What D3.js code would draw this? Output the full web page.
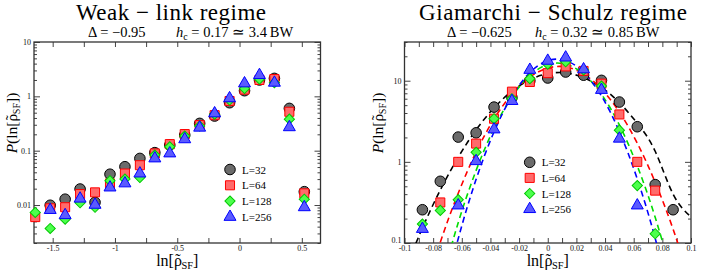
<!DOCTYPE html>
<html>
<head>
<meta charset="utf-8">
<script src="https://cdn.jsdelivr.net/npm/d3@7"></script>
<style>
  body { margin: 0; background: #fff; }
  svg { display: block; }
  text { font-family: "Liberation Serif", "Times New Roman", serif; }
</style>
</head>
<body>
<div id="chart"></div>
<script>

// ---- weak-link panel data (P vs ln rho_SF) ----
var weakX    = [-1.64, -1.52, -1.40, -1.28, -1.16, -1.04, -0.92, -0.80, -0.68, -0.56, -0.44, -0.32, -0.20, -0.08, 0.04, 0.16, 0.28, 0.40, 0.52];
var weakL32  = [null, 0.0099, 0.0128, 0.0197, 0.0112, 0.0369, 0.0507, 0.072, 0.092, 0.127, 0.194, 0.318, 0.434, 0.763, 1.27, 2.0, 2.14, 0.60, 0.0176];
var weakL64  = [0.0060, 0.0087, 0.0091, 0.0159, 0.0171, 0.025, 0.038, 0.054, 0.089, 0.132, 0.202, 0.296, 0.45, 0.82, 1.33, 2.0, 2.08, 0.52, 0.0164];
var weakL128 = [0.0073, 0.0037, 0.0055, 0.011, 0.0091, 0.028, 0.030, 0.032, 0.083, 0.118, 0.186, 0.284, 0.47, 0.855, 1.39, 2.08, 1.78, 0.38, 0.0128];
var weakL256 = [null, 0.0081, 0.0065, 0.0131, 0.0101, 0.021, 0.025, 0.038, 0.072, 0.089, 0.162, 0.265, 0.486, 0.92, 1.73, 2.46, 1.78, 0.27, 0.0091];

var weakXTicks  = [-1.5, -1.25, -1, -0.75, -0.5, -0.25, 0, 0.25, 0.5];
var weakXLabels = [-1.5, -1, -0.5, 0, 0.5];
var weakYLabels = [0.01, 0.1, 1, 10];

// ---- Giamarchi-Schulz panel data ----
var gsX    = [-0.0875, -0.075, -0.0625, -0.05, -0.0375, -0.025, -0.0125, 0, 0.0125, 0.025, 0.0375, 0.05, 0.0625, 0.075, 0.0875];
var gsL32  = [0.257, 0.576, 2.02, 2.28, 4.73, 6.2, 10.0, 10.8, 12.8, 11.7, 10.1, 5.46, 2.71, 0.524, 0.257];
var gsL64  = [null, 0.316, 1.0, 1.68, 3.4, 7.33, 9.65, 12.4, 15.0, 13.2, 9.2, 3.84, 1.0, 0.442, null];
var gsL128 = [0.171, 0.252, 0.342, 1.31, 3.4, 6.0, 10.6, 16.0, 17.1, 13.6, 8.6, 2.46, 0.51, 0.13, null];
var gsL256 = [0.149, null, 0.29, 1.02, 2.51, 5.62, 13.6, 17.6, 19.3, 13.8, 7.7, 1.93, 0.29, null, null];

// dashed fit curves
var gsFitX    = [-0.1, -0.0875, -0.075, -0.0625, -0.05, -0.0375, -0.025, -0.0125, 0, 0.0125, 0.025, 0.0375, 0.05, 0.0625, 0.075, 0.0875, 0.1];
var gsFitL32  = [0.045, 0.153, 0.45, 1.14, 2.48, 4.63, 7.43, 10.3, 12.2, 12.5, 10.9, 8.27, 5.37, 2.99, 1.35, 0.40, 0.21];
var gsFitL64  = [null, 0.020, 0.102, 0.41, 1.32, 3.37, 6.85, 11.1, 14.3, 14.8, 12.1, 7.9, 4.1, 1.70, 0.56, 0.148, 0.031];
var gsFitL128 = [null, null, 0.030, 0.178, 0.785, 2.59, 6.34, 11.6, 15.8, 16.0, 12.1, 6.8, 2.85, 0.89, 0.207, 0.036, null];
var gsFitL256 = [null, null, 0.015, 0.113, 0.61, 2.34, 6.43, 12.6, 17.7, 17.7, 12.7, 6.48, 2.36, 0.615, 0.114, 0.015, null];

var gsXTicks  = [-0.1, -0.09, -0.08, -0.07, -0.06, -0.05, -0.04, -0.03, -0.02, -0.01, 0, 0.01, 0.02, 0.03, 0.04, 0.05, 0.06, 0.07, 0.08, 0.09, 0.1];
var gsXLabels = [-0.1, -0.08, -0.06, -0.04, -0.02, 0, 0.02, 0.04, 0.06, 0.08, 0.1];
var gsYLabels = [0.1, 1, 10];

var seriesNames = ["L=32", "L=64", "L=128", "L=256"];

// marker look for each L
var styles = [
  {type: d3.symbolCircle,   size: 88, rot: 0,  fill: "#6b6b6b", stroke: "#000",    line: "#000"},
  {type: d3.symbolSquare,   size: 82, rot: 0,  fill: "#ff6b6b", stroke: "#ff0000", line: "#ff0000"},
  {type: d3.symbolSquare,   size: 52, rot: 45, fill: "#4dff4d", stroke: "#00c800", line: "#00dd00"},
  {type: d3.symbolTriangle, size: 62, rot: 0,  fill: "#5a5aff", stroke: "#0000ff", line: "#0000ff"}
];

var svg = d3.select("#chart")
  .append("svg")
  .attr("width", 706)
  .attr("height", 271);

function marker(g, s, px, py) {
  g.append("path")
    .attr("d", d3.symbol().type(s.type).size(s.size))
    .attr("transform", "translate(" + px + "," + py + ") rotate(" + s.rot + ")")
    .attr("fill", s.fill)
    .attr("stroke", s.stroke)
    .attr("stroke-width", 1);
}

// ln[rho~_SF] : tilde drawn as its own glyph over the rho
function rhoLabel(t, size, before, after) {
  t.append("tspan").text(before);
  t.append("tspan").text("\u03C1");
  t.append("tspan").attr("dx", -0.42 * size).attr("dy", -0.05 * size).text("\u02DC");
  t.append("tspan").attr("font-size", size * 0.65).attr("dx", 0.06 * size).attr("dy", 0.05 * size + 3).text("SF");
  t.append("tspan").attr("dy", -3).text(after);
}

function drawPanel(p) {

  var x = d3.scaleLinear().domain(p.xDomain).range([p.left, p.right]);
  var y = d3.scaleLog().domain(p.yDomain).range([p.bottom, p.top]);

  var g = svg.append("g");

  // all ticks point inwards, on the four sides
  var fmtX = function(d) { return p.xLabels.indexOf(d) >= 0 ? String(d) : ""; };
  var fmtY = function(d) { return String(d); };

  g.append("g")
    .attr("transform", "translate(0," + p.bottom + ")")
    .call(d3.axisBottom(x).tickValues(p.xTicks).tickSize(-5).tickPadding(2).tickFormat(fmtX));
  g.append("g")
    .attr("transform", "translate(0," + p.top + ")")
    .call(d3.axisTop(x).tickValues(p.xTicks).tickSize(-5).tickFormat(""));

  var minors = y.ticks().filter(function(v) { return p.yLabels.indexOf(v) < 0; });
  var left = g.append("g")
    .attr("transform", "translate(" + p.left + ",0)")
    .call(d3.axisLeft(y).tickValues(p.yLabels).tickSize(-6).tickPadding(3).tickFormat(fmtY));
  g.append("g")
    .attr("transform", "translate(" + p.left + ",0)")
    .call(d3.axisLeft(y).tickValues(minors).tickSize(-3).tickFormat(""));
  g.append("g")
    .attr("transform", "translate(" + p.right + ",0)")
    .call(d3.axisRight(y).tickValues(p.yLabels).tickSize(-6).tickFormat(""));
  g.append("g")
    .attr("transform", "translate(" + p.right + ",0)")
    .call(d3.axisRight(y).tickValues(minors).tickSize(-3).tickFormat(""));

  g.selectAll(".domain").remove();
  g.selectAll(".tick line").attr("stroke", "#444");
  g.selectAll(".tick text")
    .attr("font-family", "Liberation Serif, serif")
    .attr("font-size", 8)
    .attr("fill", "#111");
  // corner label sits a little higher so it clears the x tick label
  left.selectAll(".tick text").attr("dy", function(d) { return d === p.yDomain[0] ? "-0.05em" : "0.3em"; });

  g.append("rect")
    .attr("x", p.left).attr("y", p.top)
    .attr("width", p.right - p.left).attr("height", p.bottom - p.top)
    .attr("fill", "none").attr("stroke", "#333").attr("stroke-width", 1.3);

  // dashed fits, clipped to the frame
  if (p.fits) {
    var clipId = "clip" + Math.round(p.left);
    svg.append("clipPath").attr("id", clipId)
      .append("rect")
      .attr("x", p.left).attr("y", p.top)
      .attr("width", p.right - p.left).attr("height", p.bottom - p.top);

    var line = d3.line()
      .x(function(d) { return x(d[0]); })
      .y(function(d) { return y(d[1]); })
      .curve(d3.curveNatural);

    p.fits.forEach(function(f, k) {
      var pts = p.fitX.map(function(v, i) { return [v, f[i]]; }).filter(function(d) { return d[1] != null; });
      g.append("path")
        .attr("clip-path", "url(#" + clipId + ")")
        .attr("d", line(pts))
        .attr("fill", "none")
        .attr("stroke", styles[k].line)
        .attr("stroke-width", 1.6)
        .attr("stroke-dasharray", "6,4");
    });
  }

  // markers, L=32 first so triangles end on top
  p.series.forEach(function(vals, k) {
    var mg = g.append("g");
    vals.forEach(function(v, i) {
      if (v == null) return;
      marker(mg, styles[k], x(p.x[i]), y(v));
    });
  });

  // legend
  seriesNames.forEach(function(name, k) {
    var ly = p.legend[1] + k * p.legend[2];
    marker(g, styles[k], p.legend[0], ly);
    g.append("text")
      .attr("x", p.legend[0] + 12)
      .attr("y", ly + 4)
      .attr("font-size", 11)
      .text(name);
  });

  // titles
  g.append("text")
    .attr("x", p.titleX).attr("y", 19.5)
    .attr("text-anchor", "middle")
    .attr("font-family", "Liberation Serif, serif")
    .attr("font-size", 23)
    .attr("textLength", p.titleW)
    .attr("lengthAdjust", "spacing")
    .text(p.title);

  g.append("text")
    .attr("x", p.subX[0]).attr("y", 37)
    .attr("font-size", 14.5)
    .text("\u0394 = \u2212" + p.delta);

  var hc = g.append("text")
    .attr("x", p.subX[1]).attr("y", 37)
    .attr("font-size", 14.5);
  hc.append("tspan").attr("font-style", "italic").text("h");
  hc.append("tspan").attr("font-size", 10).attr("dy", 3).text("c");
  hc.append("tspan").attr("dy", -3).text(" = " + p.hc + " \u2243 " + p.bw + "\u2009BW");

  // axis labels
  var xl = g.append("text")
    .attr("x", (p.left + p.right) / 2).attr("y", 266)
    .attr("text-anchor", "middle")
    .attr("font-size", 16);
  rhoLabel(xl, 16, "ln[", "]");

  var yl = g.append("text")
    .attr("transform", "translate(" + p.yLabelX + ",123) rotate(-90)")
    .attr("text-anchor", "middle")
    .attr("font-size", 15.5);
  yl.append("tspan").attr("font-style", "italic").text("P");
  rhoLabel(yl, 15.5, "(ln[", "])");
}

drawPanel({
  left: 34, right: 320.5, top: 42, bottom: 243,
  xDomain: [-1.65, 0.65], yDomain: [0.002, 10],
  xTicks: weakXTicks, xLabels: weakXLabels, yLabels: weakYLabels,
  x: weakX, series: [weakL32, weakL64, weakL128, weakL256],
  legend: [230, 169.5, 15.8],
  title: "Weak \u2212 link regime", titleX: 171, titleW: 190,
  subX: [88, 176], delta: "0.95", hc: "0.17", bw: "3.4",
  yLabelX: 17
});

drawPanel({
  left: 404.5, right: 691, top: 42, bottom: 243,
  xDomain: [-0.1, 0.1], yDomain: [0.1, 30],
  xTicks: gsXTicks, xLabels: gsXLabels, yLabels: gsYLabels,
  x: gsX, series: [gsL32, gsL64, gsL128, gsL256],
  fitX: gsFitX, fits: [gsFitL32, gsFitL64, gsFitL128, gsFitL256],
  legend: [529.7, 162.3, 15.6],
  title: "Giamarchi \u2212 Schulz regime", titleX: 553, titleW: 268,
  subX: [447, 535], delta: "0.625", hc: "0.32", bw: "0.85",
  yLabelX: 383
});

</script>
</body>
</html>
